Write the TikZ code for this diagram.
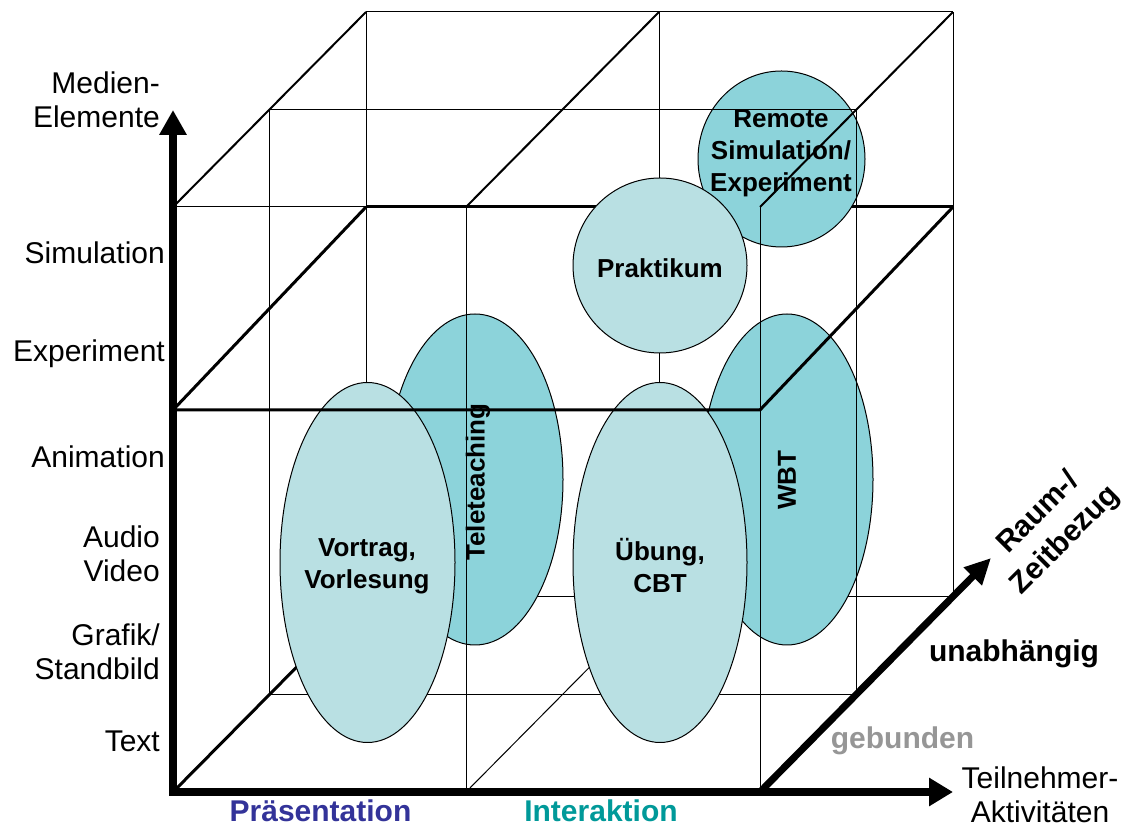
\documentclass[tikz,border=0pt]{standalone}
\usepackage{fontspec}
\setmainfont{Liberation Sans}
\usepackage{tikz}
\usetikzlibrary{arrows.meta}
\definecolor{blobLight}{RGB}{185,224,227}
\definecolor{blobDark}{RGB}{140,211,218}
\definecolor{presBlue}{RGB}{51,51,153}
\definecolor{interTeal}{RGB}{0,153,153}
\definecolor{bindGray}{RGB}{150,150,150}
\tikzset{
    gridline/.style={line width=1pt},
    topedge/.style={line width=2pt},
    planeedge/.style={line width=3pt},
    axisline/.style={line width=8pt},
    lightblob/.style={draw=black, fill=blobLight, line width=1pt},
    darkblob/.style={draw=black, fill=blobDark, line width=1pt},
    axlabel/.style={font=\fontsize{30}{34}\selectfont, inner sep=0pt, align=right},
    boldlabel/.style={font=\bfseries\fontsize{30}{34}\selectfont, inner sep=0pt, align=center},
    blobtext/.style={font=\bfseries\fontsize{26}{32}\selectfont, inner sep=0pt, align=center},
}

\begin{document}
\begin{tikzpicture}[x=10pt,y=10pt]
    \useasboundingbox (0,0) rectangle (112.5,83);
    % hinterer Teil des Wuerfels
    \draw[gridline] (36.6,23.3)--(95.3,23.3) (36.6,81.8)--(95.3,81.8);
    \draw[gridline] (36.6,23.3)--(36.6,81.8) (65.9,23.3)--(65.9,81.8) (95.3,23.3)--(95.3,81.8);
    \draw[gridline] (26.95,13.55)--(85.65,13.55) (26.95,13.55)--(26.95,72.05);
    \draw[gridline] (17.3,62.3)--(76.0,62.3);
    \draw[gridline] (46.6,3.8)--(65.9,23.3);
    \draw[planeedge] (17.3,3.8)--(36.6,23.3);
    \draw[planeedge] (36.6,62.3)--(95.3,62.3);
    \draw[topedge] (17.3,62.3)--(36.6,81.8) (46.6,62.3)--(65.9,81.8);
    % dunkle Bereiche
    \filldraw[darkblob] (47.5,35.05) ellipse (8.8 and 16.55);
    \filldraw[darkblob] (78.7,35.05) ellipse (8.6 and 16.55);
    \filldraw[darkblob] (78.15,67.1) ellipse (8.35 and 8.8);
    \draw[gridline] (46.6,3.8)--(46.6,62.3) (76.0,3.8)--(76.0,62.3);
    \draw[gridline] (26.95,72.05)--(85.65,72.05) (85.65,13.55)--(85.65,72.05);
    \draw[topedge] (76.0,62.3)--(95.3,81.8);
    \draw[planeedge] (76.0,42.0)--(95.3,62.3);
    % helle Bereiche
    \filldraw[lightblob] (36.75,26.75) ellipse (8.75 and 18);
    \filldraw[lightblob] (66.0,26.75) ellipse (8.7 and 18);
    \filldraw[lightblob] (66.0,56.45) ellipse (8.7 and 8.75);
    \draw[planeedge] (36.6,62.3)--(17.3,42.0)--(76.0,42.0);
    % Achsen
    \draw[axisline, {Triangle[length=25pt,width=26pt]}-{Triangle[length=24pt,width=27pt]}] (17.3,72.0)--(17.3,3.8)--(95.3,3.8);
    \draw[axisline, line width=7pt, -{Triangle[length=26pt,width=24pt]}] (76.0,3.8)--(99.1,27.2);
    % Beschriftung
    \node[axlabel, anchor=north east] (medien) at (16.0,75.8) {Medien-\\Elemente};
    \node[axlabel, anchor=base east] (simulation) at (16.5,56.6) {Simulation};
    \node[axlabel, anchor=base east] (experiment) at (16.5,46.8) {Experiment};
    \node[axlabel, anchor=base east] (animation) at (16.5,36.2) {Animation};
    \node[axlabel, anchor=north east] (audio) at (16.0,30.4) {Audio\\Video};
    \node[axlabel, anchor=north east] (grafik) at (16.0,20.6) {Grafik/\\Standbild};
    \node[axlabel, anchor=base east] (text) at (16.0,7.8) {Text};
    \node[boldlabel, anchor=base, text=presBlue] (praes) at (32.05,0.8) {Präsentation};
    \node[boldlabel, anchor=base, text=interTeal] (inter) at (60.1,0.8) {Interaktion};
    \node[axlabel, align=center, anchor=north] (teilnehmer) at (104.0,6.3) {Teilnehmer-\\Aktivitäten};
    \node[boldlabel, anchor=base, text=bindGray] (gebunden) at (90.25,8.1) {gebunden};
    \node[boldlabel, anchor=base] (unabh) at (101.4,16.8) {unabhängig};
    \node[boldlabel, font=\bfseries\fontsize{30}{38}\selectfont, rotate=45] (raum) at (105.2,30.3) {Raum-/\\Zeitbezug};
    \node[blobtext] (vortrag) at (36.7,26.4) {Vortrag,\\Vorlesung};
    \node[blobtext, rotate=90] (tele) at (47.8,34.8) {Teleteaching};
    \node[blobtext] (uebung) at (66.0,26.4) {Übung,\\CBT};
    \node[blobtext, rotate=90] (wbt) at (78.7,35.0) {WBT};
    \node[blobtext] (praktikum) at (66.0,56.2) {Praktikum};
    \node[blobtext] (remote) at (78.1,67.7) {Remote\\Simulation/\\Experiment};
\end{tikzpicture}
\end{document}
